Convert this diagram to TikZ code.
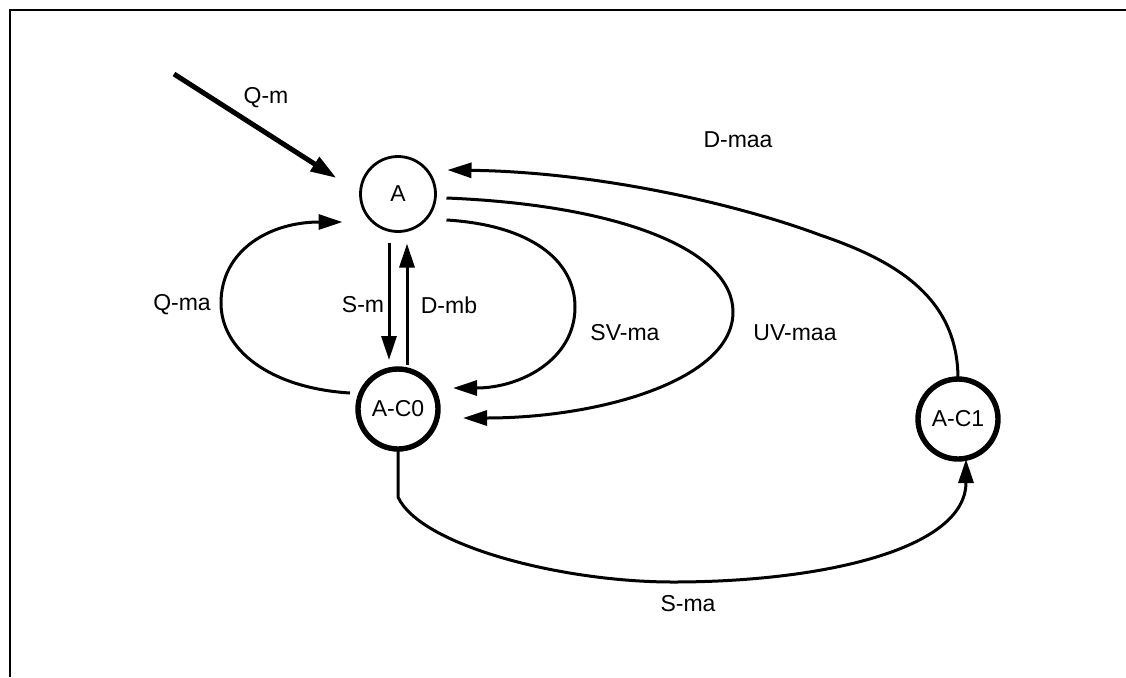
\documentclass[tikz,border=0pt]{standalone}
\usepackage{fontspec}
\setmainfont{Liberation Sans}
\usetikzlibrary{arrows.meta,calc}
\begin{document}
\begin{tikzpicture}[x=0.5pt,y=-0.5pt,
  every node/.style={font=\fontsize{11.5}{13}\selectfont},
  thinstate/.style={circle,draw,line width=1.4pt,minimum size=37.5pt,inner sep=0pt,outer sep=0pt},
  thickstate/.style={circle,draw,line width=2.7pt,minimum size=40pt,inner sep=0pt,outer sep=0pt},
  conn/.style={line width=1.5pt,-{Triangle[length=12pt,width=7.5pt]}},
  heavy/.style={line width=2.5pt,-{Triangle[length=13pt,width=8pt]}},
  lab/.style={inner sep=1pt}]
\useasboundingbox (0,0) rectangle (1126,677);
\draw[line width=1.3pt] (10,677) -- (10,10) -- (1126,10);
% states
\node[thinstate] (A) at (398,194) {A};
\node[thickstate] (AC0) at (398,409) {A-C0};
\node[thickstate] (AC1) at (958,419) {A-C1};
% Q-m
\coordinate (qs) at (174,74);
\draw[heavy] (qs) -- ([shift={(-24,-16)}]A.west);
\node[lab] at (266,98) {Q-m};
% Q-ma
\draw[conn] ([shift={(-8,-16)}]AC0.west) .. controls (270,388) and (221,350) .. (221,303)
   .. controls (221,250) and (270,222) .. ([shift={(-18,28)}]A.west);
\node[lab] at (182,305) {Q-ma};
% S-m and D-mb
\draw[conn,shorten <=5.5pt,shorten >=4.5pt] ([shift={(-9,0)}]A.south) -- ([shift={(-9,0)}]AC0.north);
\draw[conn,shorten <=2pt,shorten >=6pt] ([shift={(9,0)}]AC0.north) -- ([shift={(9,0)}]A.south);
\node[lab] at (363,305) {S-m};
\node[lab] at (449,305) {D-mb};
% SV-ma
\draw[conn] ([shift={(11,26)}]A.east) .. controls (530,225) and (575,260) .. (575,307)
   .. controls (575,360) and (520,388) .. ([shift={(15,-21)}]AC0.east);
\node[lab] at (625,333) {SV-ma};
% UV-maa
\draw[conn] ([shift={(11,4)}]A.east) .. controls (620,205) and (733,250) .. (733,312)
   .. controls (733,380) and (600,418) .. ([shift={(25,9)}]AC0.east);
\node[lab] at (795,333) {UV-maa};
% D-maa
\draw[conn] (AC1.north) .. controls (958,300) and (900,262) .. (820,235)
   .. controls (740,205) and (600,172) .. ([shift={(12,-24)}]A.east);
\node[lab] at (738,140) {D-maa};
% S-ma
\draw[conn] (AC0.south) -- (398,497) .. controls (420,545) and (560,582) .. (673,582)
   .. controls (820,582) and (966,550) .. ([shift={(8,0)}]AC1.south);
\node[lab] at (688,604) {S-ma};
\end{tikzpicture}
\end{document}
